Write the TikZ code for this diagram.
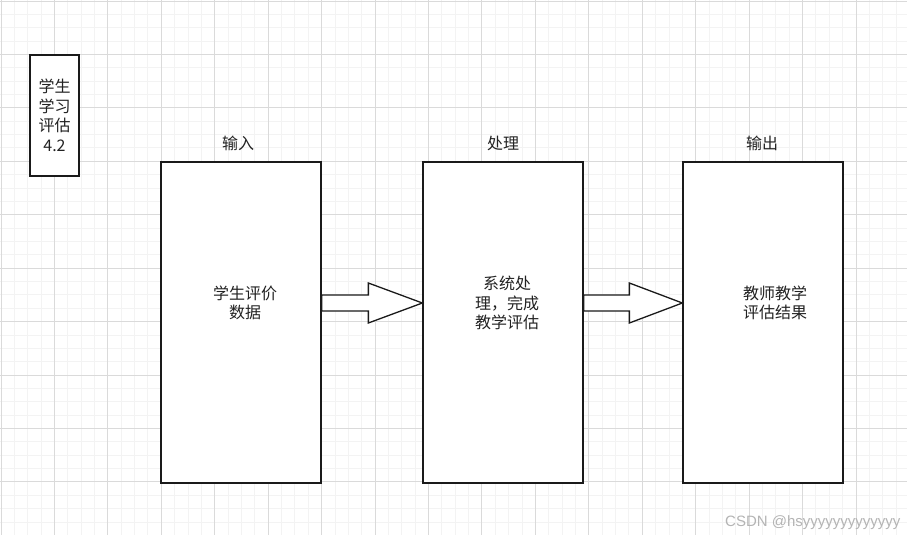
\documentclass[tikz,border=0pt]{standalone}
\usepackage{fontspec}
\newfontfamily\cjk{Noto Sans CJK SC}
\newfontfamily\wmfont{Liberation Sans}
\usetikzlibrary{calc}
\definecolor{gridminor}{HTML}{F3F3F3}
\definecolor{gridmajor}{HTML}{DADADA}
\definecolor{ink}{HTML}{222222}
\definecolor{stroke}{HTML}{1A1A1A}
\definecolor{wmgray}{HTML}{B4B4B4}
\begin{document}
\begin{tikzpicture}[x=1pt,y=-1pt,
  stagebox/.style={draw=stroke, line width=1.3pt, fill=white, rectangle, inner sep=0pt},
  cjktext/.style={font=\cjk\fontsize{16}{19.5}\selectfont, text=ink, align=center, inner sep=0pt},
  blockarrow/.style={draw=stroke, line width=1.3pt, fill=white, line join=miter}]
\useasboundingbox (0,0) rectangle (907,535);
\fill[white] (0,0) rectangle (907,535);
% background grid, snapped to whole units: fine lines, then every fourth line darker
\foreach \i in {0,...,67} {
  \pgfmathsetmacro\gp{floor(1+13.36*\i)+0.5}
  \draw[gridminor, line width=1pt] (\gp,0) -- (\gp,535);
  \draw[gridminor, line width=1pt] (0,\gp) -- (907,\gp);
}
\foreach \i in {0,...,16} {
  \pgfmathsetmacro\gp{floor(1+53.44*\i)+0.5}
  \draw[gridmajor, line width=1pt] (\gp,0) -- (\gp,535);
  \draw[gridmajor, line width=1pt] (0,\gp) -- (907,\gp);
}

% tag box
\node[stagebox, minimum width=49pt, minimum height=121pt] (tag) at (54.5,115.5) {};
\node[cjktext] (tagtext) at (tag.center) {学生\\学习\\评估\\4.2};

% three stages
\node[stagebox, minimum width=160pt, minimum height=321pt] (in)   at (241,322.5) {};
\node[stagebox, minimum width=160pt, minimum height=321pt] (proc) at (503,322.5) {};
\node[stagebox, minimum width=160pt, minimum height=321pt] (out)  at (763,322.5) {};

\node[cjktext] (intitle)   at (238,143) {输入};
\node[cjktext] (proctitle) at (503,143) {处理};
\node[cjktext] (outtitle)  at (762,143) {输出};

\node[cjktext] (intext)   at (245,303) {学生评价\\数据};
\node[cjktext] (proctext) at (507,303) {系统处\\理，完成\\教学评估};
\node[cjktext] (outtext)  at (775,303) {教师教学\\评估结果};

% block arrows between the stages
\coordinate (level) at (0,303);
\coordinate (a1s) at (in.east |- level);
\coordinate (a1e) at (proc.west |- level);
\coordinate (a2s) at (proc.east |- level);
\coordinate (a2e) at (out.west |- level);
\draw[blockarrow] ($(a1s)+(0,-8)$) -- ($(a1e)+(-54,-8)$) -- ($(a1e)+(-54,-20)$) -- (a1e)
  -- ($(a1e)+(-54,20)$) -- ($(a1e)+(-54,8)$) -- ($(a1s)+(0,8)$) -- cycle;
\draw[blockarrow] ($(a2s)+(0,-8)$) -- ($(a2e)+(-53,-8)$) -- ($(a2e)+(-53,-20)$) -- (a2e)
  -- ($(a2e)+(-53,20)$) -- ($(a2e)+(-53,8)$) -- ($(a2s)+(0,8)$) -- cycle;

% watermark
\node[anchor=base west, font=\wmfont\fontsize{15}{18}\selectfont, text=wmgray, inner sep=0pt] (mark) at (725,526) {CSDN @hsyyyyyyyyyyyyy};
\end{tikzpicture}
\end{document}
